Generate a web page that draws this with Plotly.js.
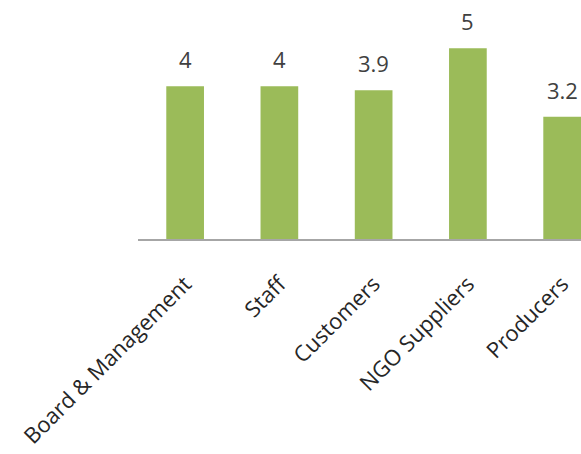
<!DOCTYPE html>
<html>
<head>
<meta charset="utf-8">
<script src="https://cdn.plot.ly/plotly-3.0.1.min.js"></script>
<style>html,body{margin:0;padding:0;background:#fff;}#chart{width:581px;height:454px;}</style>
</head>
<body>
<div id="chart"></div>
<script>
const categories = ["Board & Management", "Staff", "Customers", "NGO Suppliers", "Producers"];
const values = [4, 4, 3.9, 5, 3.2];
const valueLabels = ["4", "4", "3.9", "5", "3.2"];

const fontFamily = "'Open Sans', 'DejaVu Sans', sans-serif";

const trace = {
  type: "bar",
  x: categories,
  y: values,
  marker: { color: "#9bbb59" },
  hoverinfo: "none"
};

const annotations = categories.map((c, i) => ({
  x: c,
  y: values[i],
  text: valueLabels[i],
  showarrow: false,
  xanchor: "center",
  yanchor: "bottom",
  yshift: 10,
  font: { family: fontFamily, size: 22, color: "#404040" }
}));

const layout = {
  width: 581,
  height: 454,
  margin: { l: 138, r: 0, t: 10, b: 215, pad: 0 },
  paper_bgcolor: "#ffffff",
  plot_bgcolor: "#ffffff",
  showlegend: false,
  bargap: 0.6,
  xaxis: {
    type: "category",
    range: [-0.5, 4.2],
    showline: true,
    linecolor: "#a6a6a6",
    linewidth: 1.5,
    ticks: "",
    tickangle: -45,
    ticklabelstandoff: 22,
    tickfont: { family: fontFamily, size: 22, color: "#262626" },
    showgrid: false,
    zeroline: false
  },
  yaxis: {
    range: [0, 6],
    visible: false,
    showgrid: false,
    zeroline: false
  },
  annotations: annotations
};

Plotly.newPlot("chart", [trace], layout, { staticPlot: true, displayModeBar: false });
</script>
</body>
</html>
